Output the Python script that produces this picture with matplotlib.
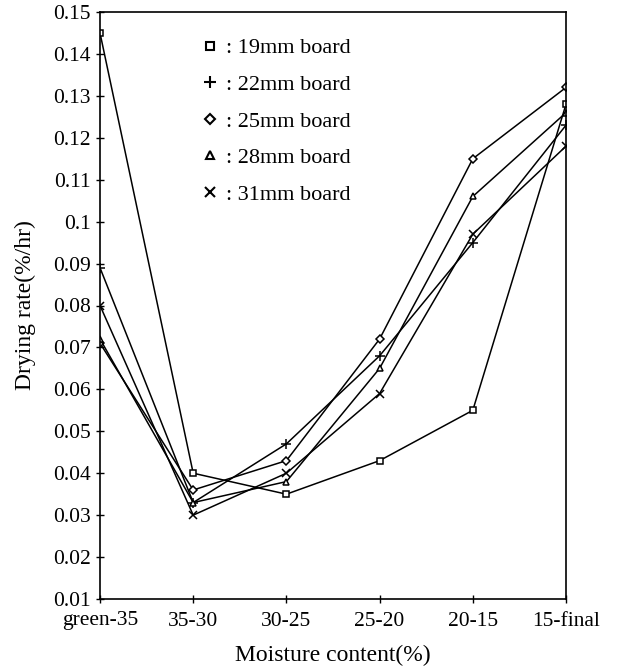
import matplotlib
matplotlib.use("Agg")
import matplotlib.pyplot as plt

categories = ["green-35", "35-30", "30-25", "25-20", "20-15", "15-final"]
board_19 = [0.145, 0.040, 0.035, 0.043, 0.055, 0.128]
board_22 = [0.089, 0.033, 0.047, 0.068, 0.095, 0.123]
board_25 = [0.071, 0.036, 0.043, 0.072, 0.115, 0.132]
board_28 = [0.072, 0.033, 0.038, 0.065, 0.106, 0.126]
board_31 = [0.080, 0.030, 0.040, 0.059, 0.097, 0.118]
labels = [": 19mm board", ": 22mm board", ": 25mm board", ": 28mm board", ": 31mm board"]
yticks = [0.15, 0.14, 0.13, 0.12, 0.11, 0.1, 0.09, 0.08, 0.07, 0.06, 0.05, 0.04, 0.03, 0.02, 0.01]
ytick_labels = ["0.15", "0.14", "0.13", "0.12", "0.11", "0.1", "0.09", "0.08", "0.07",
                "0.06", "0.05", "0.04", "0.03", "0.02", "0.01"]

plt.rcParams['font.family'] = ['Liberation Serif', 'DejaVu Serif']

fig = plt.figure(figsize=(6.17, 6.72), dpi=100)
ax = fig.add_axes([100/617, 1-599/672, 466/617, 587/672])

x = list(range(len(categories)))
series = [board_19, board_22, board_25, board_28, board_31]
markers = ["s", "+", "D", "^", "x"]
msizes = [5, 7, 4.5, 5, 6]
handles = []
for vals, m, ms, lab in zip(series, markers, msizes, labels):
    ax.plot(x, vals, color="black", lw=1.1, marker=m, ms=ms, mfc="white", mec="black", mew=1.1)
    h, = ax.plot([], [], ls="none", marker=m, ms=ms+1, mfc="white", mec="black", mew=1.5, color="black")
    handles.append(h)

ax.set_xlim(0, 5)
ax.set_ylim(0.01, 0.15)
ax.set_xticks(x)
ax.set_xticklabels(categories, fontsize=15.5)
ax.set_yticks(yticks)
ax.set_yticklabels(ytick_labels, fontsize=15.5)
ax.tick_params(axis="both", direction="inout", length=6, width=1, colors="black")
ax.tick_params(axis="x", pad=6)
for s in ax.spines.values():
    s.set_linewidth(1.2)

ax.set_xlabel("Moisture content(%)", fontsize=17, labelpad=10)
ax.set_ylabel("Drying rate(%/hr)", fontsize=17, labelpad=12)

leg = ax.legend(handles, labels, loc="upper left", bbox_to_anchor=(0.175, 0.99), frameon=False,
                fontsize=16, handlelength=0.8, handletextpad=0.3, labelspacing=0.72)

fig.savefig("out.png", dpi=100)
